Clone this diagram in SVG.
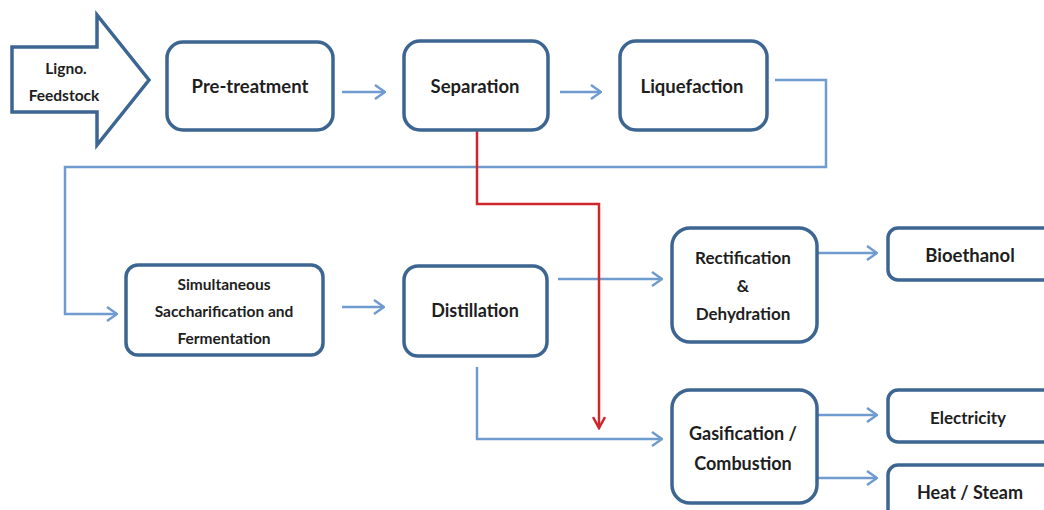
<svg xmlns="http://www.w3.org/2000/svg" width="1044" height="510" viewBox="0 0 1044 510">
  <style>
    .box { fill: #ffffff; stroke: #3d6592; stroke-width: 3.5; }
    .lbl { font-family: Lato, "Liberation Sans", sans-serif; font-weight: bold; font-size: 18px; fill: #1e1e1e; text-anchor: middle; dominant-baseline: central; }
    .lg { font-size: 18.5px; }
    .md { font-size: 17px; }
    .sm { font-size: 15.5px; }
    .flow { fill: none; stroke: #6f9bd0; stroke-width: 2.5; }
    .red { fill: none; stroke: #d0262b; stroke-width: 2.5; }
  </style>
  <defs>
    <marker id="chev" viewBox="0 0 12 16" refX="11" refY="8" markerWidth="12" markerHeight="16" markerUnits="userSpaceOnUse" orient="auto">
      <polyline points="1,1 11,8 1,15" fill="none" stroke="#6f9bd0" stroke-width="2.5"/>
    </marker>
    <marker id="chevRed" viewBox="0 0 14 14" refX="12" refY="7" markerWidth="14" markerHeight="14" markerUnits="userSpaceOnUse" orient="auto">
      <polyline points="1,1 12,7 1,13" fill="none" stroke="#d0262b" stroke-width="2.5"/>
    </marker>
  </defs>

  <!-- connectors -->
  <g id="connectors">
    <line class="flow" x1="342" y1="92" x2="385" y2="92" marker-end="url(#chev)"/>
    <line class="flow" x1="560" y1="92" x2="601" y2="92" marker-end="url(#chev)"/>
    <polyline class="flow" points="775,80 826,80 826,167 65,167 65,314 117,314" marker-end="url(#chev)"/>
    <line class="flow" x1="342" y1="307" x2="384" y2="307" marker-end="url(#chev)"/>
    <line class="flow" x1="558" y1="279" x2="662" y2="279" marker-end="url(#chev)"/>
    <line class="flow" x1="817" y1="253" x2="877" y2="253" marker-end="url(#chev)"/>
    <polyline class="flow" points="477,367 477,439 662,439" marker-end="url(#chev)"/>
    <line class="flow" x1="817" y1="415" x2="877" y2="415" marker-end="url(#chev)"/>
    <line class="flow" x1="817" y1="478" x2="877" y2="478" marker-end="url(#chev)"/>
    <polyline class="red" points="477,131 477,204 599,204 599,428" marker-end="url(#chevRed)"/>
  </g>

  <!-- input arrow -->
  <g id="feedstock">
    <polygon points="12,47 97,47 97,15 149,80 97,145 97,112 12,112" fill="#ffffff" stroke="#3d6592" stroke-width="3.5" stroke-linejoin="miter"/>
    <text class="lbl sm" x="66" y="68">Ligno.</text>
    <text class="lbl sm" x="64" y="95">Feedstock</text>
  </g>

  <g id="pretreatment">
    <rect class="box" x="167" y="42" width="166" height="88" rx="16"/>
    <text class="lbl lg" x="250" y="86">Pre-treatment</text>
  </g>

  <g id="separation">
    <rect class="box" x="404" y="41" width="144" height="89" rx="16"/>
    <text class="lbl lg" x="475" y="86">Separation</text>
  </g>

  <g id="liquefaction">
    <rect class="box" x="620" y="41" width="147" height="89" rx="16"/>
    <text class="lbl lg" x="692" y="86">Liquefaction</text>
  </g>

  <g id="ssf">
    <rect class="box" x="126" y="265" width="197" height="90" rx="12"/>
    <text class="lbl sm" x="224" y="284">Simultaneous</text>
    <text class="lbl sm" x="224" y="311">Saccharification and</text>
    <text class="lbl sm" x="224" y="338">Fermentation</text>
  </g>

  <g id="distillation">
    <rect class="box" x="404" y="266" width="143" height="90" rx="14"/>
    <text class="lbl" x="475" y="310">Distillation</text>
  </g>

  <g id="rectification">
    <rect class="box" x="672" y="228" width="145" height="114" rx="18"/>
    <text class="lbl md" x="743" y="257">Rectification</text>
    <text class="lbl md" x="743" y="285">&amp;</text>
    <text class="lbl md" x="743" y="313">Dehydration</text>
  </g>

  <g id="bioethanol">
    <rect class="box" x="888" y="228" width="170" height="52" rx="10"/>
    <text class="lbl lg" x="970" y="255">Bioethanol</text>
  </g>

  <g id="gasification">
    <rect class="box" x="672" y="390" width="145" height="113" rx="18"/>
    <text class="lbl" x="743" y="433">Gasification /</text>
    <text class="lbl" x="743" y="463">Combustion</text>
  </g>

  <g id="electricity">
    <rect class="box" x="888" y="390" width="170" height="52" rx="10"/>
    <text class="lbl md" x="968" y="417">Electricity</text>
  </g>

  <g id="heat">
    <rect class="box" x="888" y="465" width="170" height="60" rx="10"/>
    <text class="lbl" x="970" y="492">Heat / Steam</text>
  </g>
</svg>
